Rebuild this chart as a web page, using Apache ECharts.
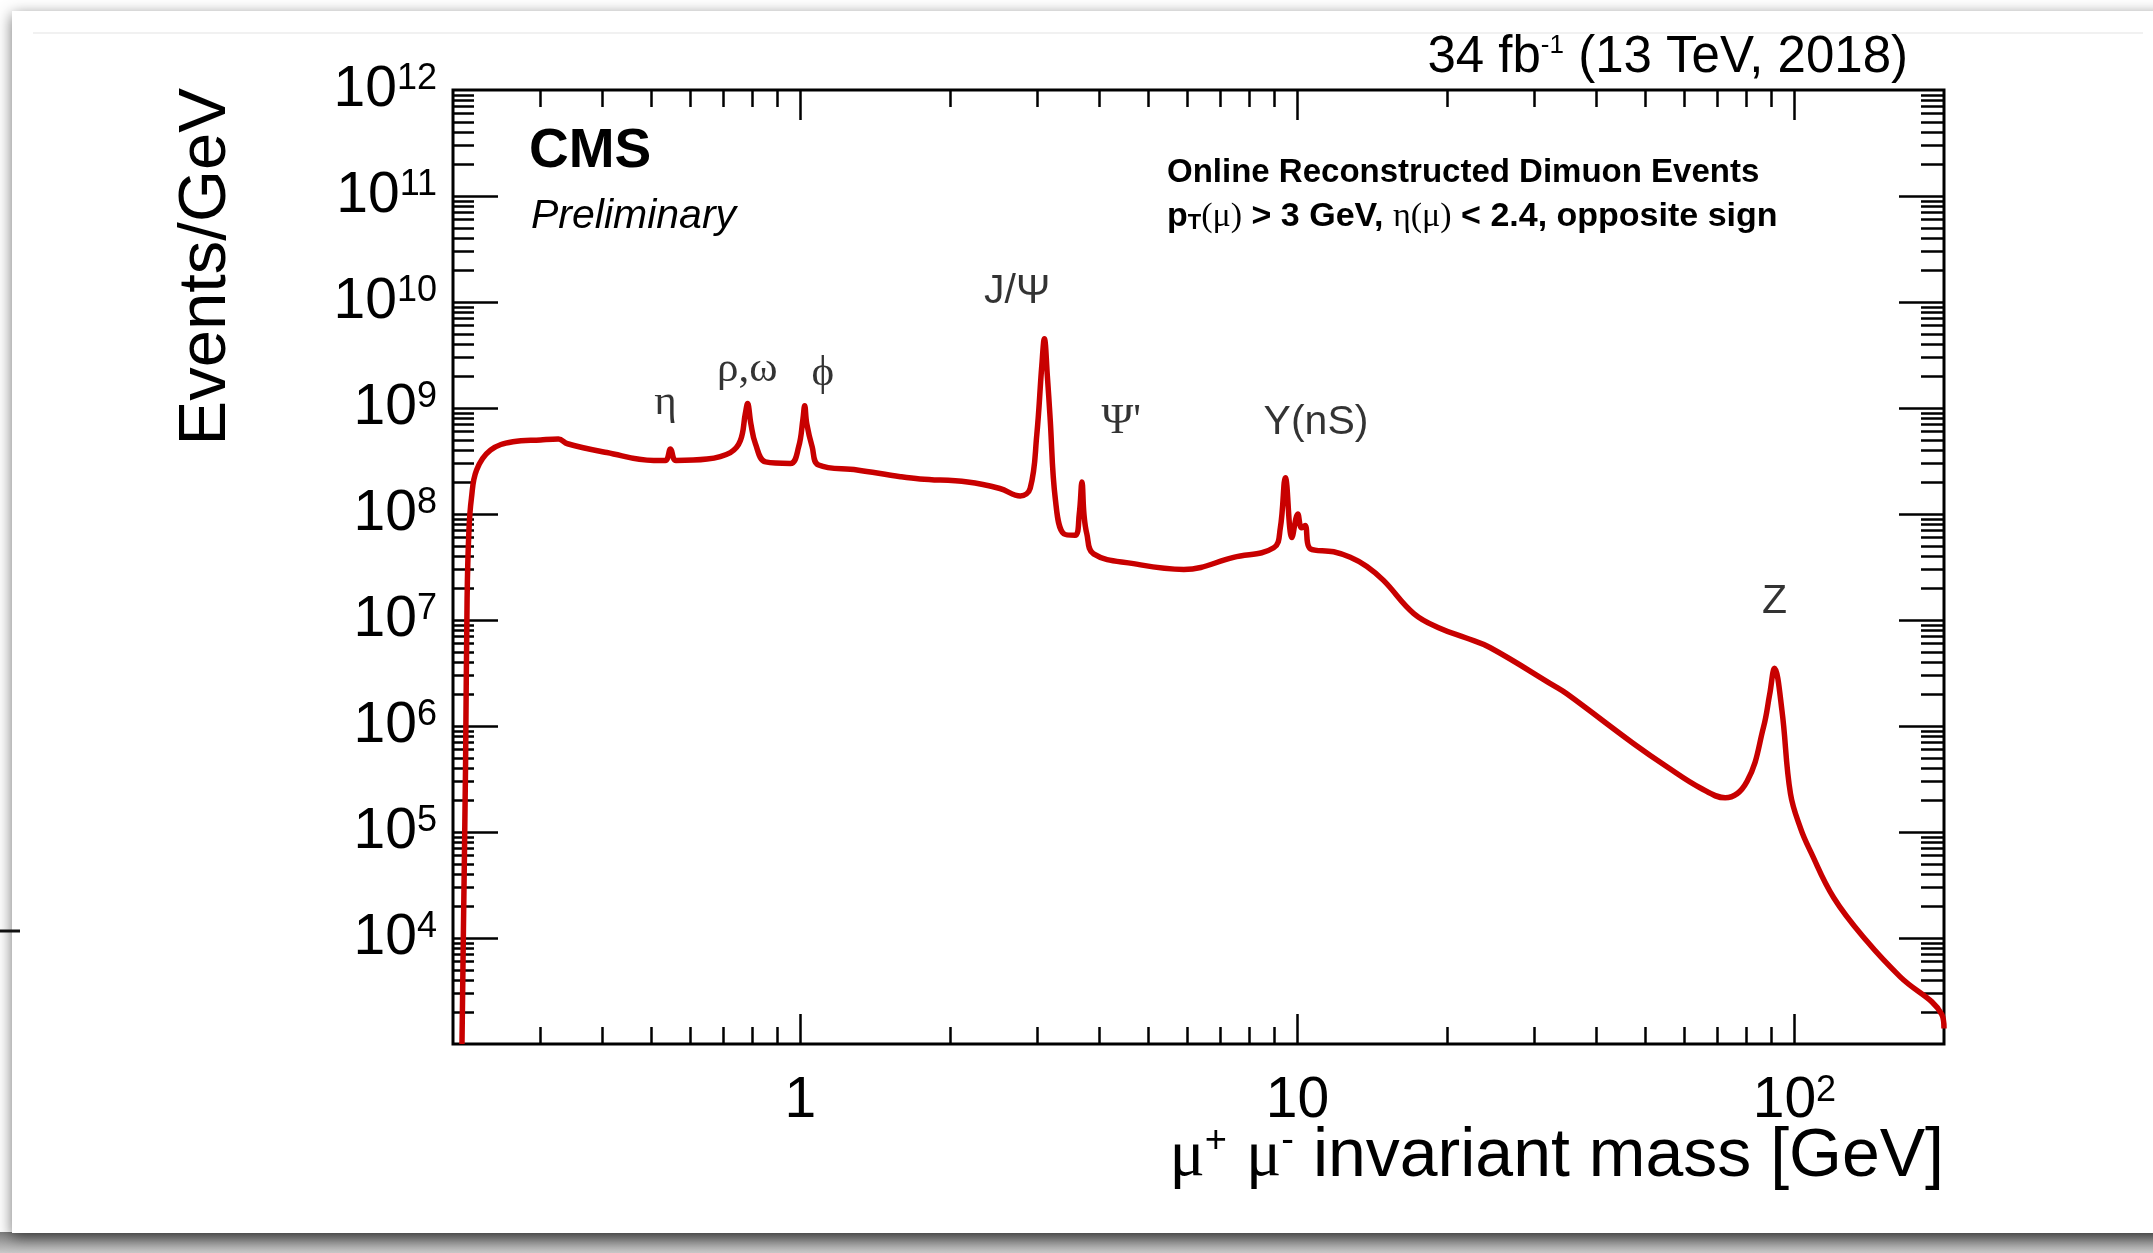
<!DOCTYPE html>
<html>
<head>
<meta charset="utf-8">
<title>CMS dimuon mass spectrum</title>
<script src="https://cdn.jsdelivr.net/npm/echarts@6/dist/echarts.min.js"></script>
<style>
  html, body { margin: 0; padding: 0; background: #fff; }
  #chart { width: 2153px; height: 1253px; }
</style>
</head>
<body>
<div id="chart"></div>
<script>
// dimuon invariant mass [GeV] and events/GeV
const mass = [
  0.2085, 0.2099, 0.212, 0.2135, 0.2153, 0.2178, 0.2231, 0.2379, 0.264, 0.30,
  0.326, 0.34, 0.408, 0.507, 0.535, 0.548, 0.562, 0.649, 0.723, 0.757,
  0.775, 0.783, 0.795, 0.812, 0.851, 0.955, 0.992, 1.012, 1.02, 1.03,
  1.056, 1.088, 1.30, 1.59, 1.74, 2.17, 2.52, 2.77, 2.90, 2.99, 3.06,
  3.097, 3.14, 3.18, 3.26, 3.39, 3.57, 3.64, 3.686, 3.72, 3.77,
  3.89, 4.68, 5.91, 7.44, 8.96, 9.24, 9.46, 9.75, 10.02, 10.19,
  10.36, 10.62, 11.83, 12.78, 13.8, 14.92, 17.15, 19.4, 21.8, 24.4,
  32.8, 34.9, 47.5, 55.5, 64.7, 72.6, 80.3, 86.7, 89.2, 91.2,
  94.4, 98.2, 103, 107.7, 120, 140, 163.3, 198, 200
];
const events = [
  1.0e3, 1.2e4, 4.4e5, 1.6e7, 6.9e7, 1.4e8, 2.6e8, 4.0e8, 4.8e8, 5.0e8,
  5.1e8, 4.6e8, 3.8e8, 3.2e8, 3.2e8, 4.1e8, 3.2e8, 3.3e8, 3.8e8, 4.9e8,
  8.9e8, 1.1e9, 7.1e8, 4.6e8, 3.1e8, 3.0e8, 4.3e8, 7.9e8, 1.05e9, 7.1e8,
  4.3e8, 2.9e8, 2.6e8, 2.25e8, 2.14e8, 2.0e8, 1.74e8, 1.48e8, 1.75e8, 5.6e8, 2.5e9,
  4.5e9, 2.0e9, 8.1e8, 1.35e8, 6.5e7, 6.3e7, 1.0e8, 2.0e8, 1.0e8, 6.5e7,
  4.2e7, 3.4e7, 3.0e7, 3.9e7, 4.8e7, 7.4e7, 2.2e8, 6.0e7, 1.0e8, 7.4e7,
  7.8e7, 4.7e7, 4.4e7, 3.9e7, 3.2e7, 2.35e7, 1.15e7, 8.3e6, 6.8e6, 5.5e6,
  2.4e6, 2.0e6, 6.8e5, 4.1e5, 2.6e5, 2.1e5, 3.0e5, 9.8e5, 2.0e6, 3.5e6,
  1.4e6, 2.3e5, 1.07e5, 6.6e4, 2.4e4, 9.3e3, 4.3e3, 1.9e3, 1.4e3
];

// resonance labels and where they sit (mass, events/GeV)
const peakNames = ['η', 'ρ,ω', 'ϕ', 'J/Ψ', 'Ψ\'', 'Y(nS)', 'Z'];
const peakLabelMass = [0.535, 0.782, 1.11, 2.73, 4.42, 10.9, 91.2];
const peakLabelEvents = [1.12e9, 2.3e9, 2.1e9, 1.26e10, 7.4e8, 7.3e8, 1.5e7];
const serifPeaks = ['η', 'ρ,ω', 'ϕ', 'Ψ\''];

// axis ticks
const xLabelTicks = [1, 10, 100];
const xMinorTicks = [0.3, 0.4, 0.5, 0.6, 0.7, 0.8, 0.9, 2, 3, 4, 5, 6, 7, 8, 9,
  20, 30, 40, 50, 60, 70, 80, 90];
const yLabelTicks = [1e4, 1e5, 1e6, 1e7, 1e8, 1e9, 1e10, 1e11, 1e12];
const yMajorTicks = [1e4, 1e5, 1e6, 1e7, 1e8, 1e9, 1e10, 1e11];
const yDecades = [1e3, 1e4, 1e5, 1e6, 1e7, 1e8, 1e9, 1e10, 1e11];
const yMinorTicks = [];
yDecades.forEach(d => [2, 3, 4, 5, 6, 7, 8, 9].forEach(k => yMinorTicks.push(k * d)));

const SANS = '"Liberation Sans", Arial, Helvetica, sans-serif';
const SERIF = '"Liberation Serif", "DejaVu Serif", serif';

const powLabel = v => {
  const e = Math.round(Math.log10(v));
  if (e === 0) return '{b|1}';
  if (e === 1) return '{b|10}';
  return '{b|10}{sup|' + e + '}';
};
const labelRich = {
  b: { fontSize: 57, lineHeight: 57, padding: [12, 0, 0, 0], verticalAlign: 'bottom', fontFamily: SANS, color: '#000' },
  sup: { fontSize: 36, lineHeight: 36, verticalAlign: 'top', fontFamily: SANS, color: '#000' },
};

const tickStyle = { color: '#000', width: 2.5 };

const xAxisBase = {
  type: 'log',
  logBase: 10,
  min: 0.2,
  max: 200,
  axisLine: { show: false },
  splitLine: { show: false },
  minorTick: { show: false },
};
const yAxisBase = {
  type: 'log',
  logBase: 10,
  min: 1e3,
  max: 1e12,
  axisLine: { show: false },
  splitLine: { show: false },
  minorTick: { show: false },
};

const makeX = (position, ticks, length, withLabels) => Object.assign({}, xAxisBase, {
  position,
  axisTick: { show: true, inside: true, length, customValues: ticks, lineStyle: tickStyle },
  axisLabel: withLabels
    ? { show: true, customValues: xLabelTicks, formatter: powLabel, rich: labelRich, margin: 29 }
    : { show: false },
});
const makeY = (position, ticks, length, withLabels) => Object.assign({}, yAxisBase, {
  position,
  axisTick: { show: true, inside: true, length, customValues: ticks, lineStyle: tickStyle },
  axisLabel: withLabels
    ? { show: true, customValues: yLabelTicks, formatter: powLabel, rich: labelRich, margin: 16 }
    : { show: false },
});

const chart = echarts.init(document.getElementById('chart'), null, { renderer: 'canvas' });

chart.setOption({
  animation: false,
  backgroundColor: '#fff',
  grid: {
    left: 453,
    top: 90,
    width: 1491,
    height: 954,
    show: true,
    borderColor: '#000',
    borderWidth: 3,
    backgroundColor: 'transparent',
    outerBoundsMode: 'none',
  },
  xAxis: [
    makeX('bottom', xLabelTicks, 30, true),
    makeX('bottom', xMinorTicks, 17, false),
    makeX('top', xLabelTicks, 30, false),
    makeX('top', xMinorTicks, 17, false),
  ],
  yAxis: [
    makeY('left', yMajorTicks, 45, true),
    makeY('left', yMinorTicks, 21, false),
    makeY('right', yMajorTicks, 45, false),
    makeY('right', yMinorTicks, 23, false),
  ],
  series: [
    {
      name: 'dimuon',
      type: 'line',
      xAxisIndex: 0,
      yAxisIndex: 0,
      data: mass.map((m, i) => [m, events[i]]),
      showSymbol: false,
      smooth: 0.4,
      clip: true,
      lineStyle: { color: '#c80000', width: 5.5 },
      z: 3,
    },
    {
      name: 'peaks',
      type: 'scatter',
      xAxisIndex: 0,
      yAxisIndex: 0,
      symbolSize: 0,
      silent: true,
      data: peakNames.map((n, i) => ({
        name: n,
        value: [peakLabelMass[i], peakLabelEvents[i]],
        label: serifPeaks.includes(n)
          ? { fontFamily: SERIF, fontSize: 43 }
          : { fontFamily: SANS, fontSize: 41 },
      })),
      label: {
        show: true,
        position: 'inside',
        formatter: p => p.name,
        color: '#000',
      },
    },
  ],
  graphic: [
    // page card behind the plot
    {
      type: 'rect', z: -100, silent: true,
      shape: { x: 12, y: 11, width: 2200, height: 1222 },
      style: { fill: '#fff', shadowBlur: 14, shadowColor: 'rgba(0,0,0,0.55)', shadowOffsetY: 4 },
    },
    {
      type: 'rect', z: -110, silent: true,
      shape: { x: 0, y: 1232, width: 2153, height: 21 },
      style: {
        fill: new echarts.graphic.LinearGradient(0, 0, 0, 1, [
          { offset: 0, color: '#7d7d7d' },
          { offset: 1, color: '#c9c9c9' },
        ]),
      },
    },
    {
      type: 'line', z: -90, silent: true,
      shape: { x1: 33, y1: 33, x2: 2143, y2: 33 },
      style: { stroke: '#ececec', lineWidth: 1.5 },
    },
    {
      type: 'line', z: -90, silent: true,
      shape: { x1: 0, y1: 931, x2: 20, y2: 931 },
      style: { stroke: '#111', lineWidth: 3 },
    },
    {
      type: 'text', x: 1908, y: 58,
      style: {
        text: '{n|34 fb}{sup|-1}{n| (13 TeV, 2018)}',
        align: 'right', verticalAlign: 'middle',
        rich: {
          n: { fontSize: 51, lineHeight: 51, padding: [8, 0, 0, 0], verticalAlign: 'bottom', fontFamily: SANS, color: '#000' },
          sup: { fontSize: 26, lineHeight: 26, verticalAlign: 'top', fontFamily: SANS, color: '#000' },
        },
      },
    },
    {
      type: 'text', x: 529, y: 152,
      style: { text: 'CMS', font: 'bold 55px ' + SANS, fill: '#000', align: 'left', verticalAlign: 'middle' },
    },
    {
      type: 'text', x: 531, y: 217,
      style: { text: 'Preliminary', font: 'italic 41px ' + SANS, fill: '#000', align: 'left', verticalAlign: 'middle' },
    },
    {
      type: 'text', x: 1167, y: 173,
      style: { text: 'Online Reconstructed Dimuon Events', font: 'bold 33px ' + SANS, fill: '#000', align: 'left', verticalAlign: 'middle' },
    },
    {
      type: 'text', x: 1167, y: 217,
      style: {
        text: '{b|p}{sub|T}{g|(μ)}{b| > 3 GeV, }{g|η(μ)}{b| < 2.4, opposite sign}',
        align: 'left', verticalAlign: 'middle',
        rich: {
          b: { fontSize: 34, lineHeight: 34, fontWeight: 'bold', fontFamily: SANS, color: '#000', verticalAlign: 'top' },
          sub: { fontSize: 22, lineHeight: 22, fontWeight: 'bold', fontFamily: SANS, color: '#000', verticalAlign: 'bottom', padding: [22, 0, 0, 0] },
          g: { fontSize: 34, lineHeight: 34, fontFamily: SERIF, color: '#000', verticalAlign: 'top' },
        },
      },
    },
    {
      type: 'text', x: 1944, y: 1157,
      style: {
        text: '{m|μ}{sup|+}{n| }{m|μ}{sup|-}{n| invariant mass [GeV]}',
        align: 'right', verticalAlign: 'middle',
        rich: {
          n: { fontSize: 68, lineHeight: 68, padding: [8, 0, 0, 0], verticalAlign: 'bottom', fontFamily: SANS, color: '#000' },
          m: { fontSize: 66, lineHeight: 68, padding: [8, 0, 0, 0], verticalAlign: 'bottom', fontFamily: SERIF, color: '#000' },
          sup: { fontSize: 38, lineHeight: 38, verticalAlign: 'top', fontFamily: SANS, color: '#000' },
        },
      },
    },
    {
      type: 'text', x: 207, y: 88, rotation: Math.PI / 2,
      style: { text: 'Events/GeV', font: '67px ' + SANS, fill: '#000', align: 'right', verticalAlign: 'middle' },
    },
  ],
});

window.addEventListener('resize', () => chart.resize());
</script>
</body>
</html>
